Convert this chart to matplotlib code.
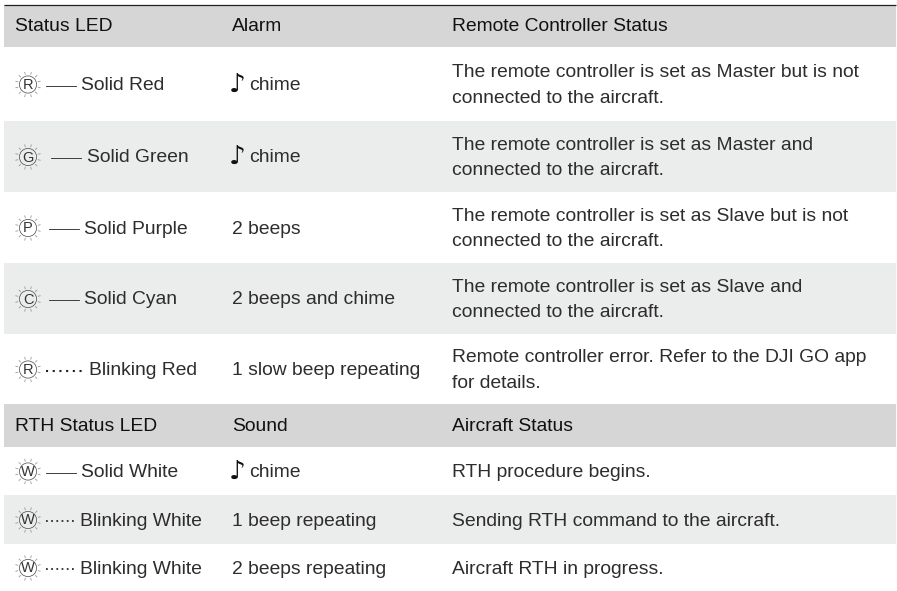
import matplotlib
matplotlib.use("Agg")
import matplotlib.pyplot as plt
from matplotlib.patches import Rectangle, Circle
import numpy as np

W, H = 897, 591
FONT = ["Liberation Sans", "DejaVu Sans"]
FS = 13.9
TXT = "#2e2c2d"
HDR = "#111111"

# content
headers_a = ["Status LED", "Alarm", "Remote Controller Status"]
headers_b = ["RTH Status LED", "Sound", "Aircraft Status"]
leds = ["R", "G", "P", "C", "R", "W", "W", "W"]
led_labels = ["Solid Red", "Solid Green", "Solid Purple", "Solid Cyan", "Blinking Red",
              "Solid White", "Blinking White", "Blinking White"]
line_kinds = ["solid", "solid", "solid", "solid", "dot", "solid", "dot", "dot"]
alarms = ["chime", "chime", "2 beeps", "2 beeps and chime", "1 slow beep repeating",
          "chime", "1 beep repeating", "2 beeps repeating"]
has_note = [True, True, False, False, False, True, False, False]
statuses = [
    "The remote controller is set as Master but is not\nconnected to the aircraft.",
    "The remote controller is set as Master and\nconnected to the aircraft.",
    "The remote controller is set as Slave but is not\nconnected to the aircraft.",
    "The remote controller is set as Slave and\nconnected to the aircraft.",
    "Remote controller error. Refer to the DJI GO app\nfor details.",
    "RTH procedure begins.",
    "Sending RTH command to the aircraft.",
    "Aircraft RTH in progress.",
]

# layout (pixels)
row_edges = [47, 121, 192, 263, 334, 404, 447, 495, 544, 591]
row_kinds = ["w", "g", "w", "g", "w", "h", "w", "g", "w"]
line_x0 = [46, 51, 49, 49, 46, 46, 46, 46]
line_x1 = [76, 81, 79, 79, 85, 76, 75, 75]
label_x = [81, 87, 83.5, 83.5, 89, 81, 79.5, 79.5]
dot_step_px = [0, 0, 0, 0, 6.7, 0, 5.2, 5.2]
dot_lw = [0, 0, 0, 0, 1.5, 0, 1.25, 1.25]
col2, col3, left, right = 232, 452, 4, 896
fills = {"w": "#ffffff", "g": "#ebecec", "h": "#d6d6d6"}

fig = plt.figure(figsize=(W / 100, H / 100), dpi=100, facecolor="white")
ax = fig.add_axes([0, 0, 1, 1])
ax.set_xlim(0, W)
ax.set_ylim(H, 0)
ax.axis("off")


def txt(x, y, s, color=TXT):
    ax.text(x, y + 1, s, family=FONT, fontsize=FS, color=color, va="center", ha="left",
            linespacing=1.67, zorder=4)


def band(y0, y1, c):
    ax.add_patch(Rectangle((left, y0), right - left, y1 - y0, fc=c, ec="none", zorder=0))


def led(cx, cy, letter):
    ax.add_patch(Circle((cx, cy), 8.6, fc="none", ec="#555555", lw=0.55, zorder=2))
    for a in np.deg2rad(np.arange(0, 360, 30) + 15):
        ax.plot([cx + 10.2 * np.cos(a), cx + 13 * np.cos(a)],
                [cy + 10.2 * np.sin(a), cy + 13 * np.sin(a)],
                color="#9a9a9a", lw=0.6, zorder=2, solid_capstyle="butt")
    ax.text(cx, cy - 1, letter, family=FONT, fontsize=10.5, color="#333333", ha="center",
            va="center_baseline", zorder=3)


band(5, 47, fills["h"])
ax.plot([left, right], [4.5, 4.5], color="#231f20", lw=0.9, zorder=3, solid_capstyle="butt")
for h, x in zip(headers_a, (15, col2, col3)):
    txt(x, 25.5, h, HDR)

for i in range(len(row_kinds)):
    band(row_edges[i], row_edges[i + 1], fills[row_kinds[i]])

hdr_row = row_kinds.index("h")
hy = (row_edges[hdr_row] + row_edges[hdr_row + 1]) / 2
for h, x in zip(headers_b, (15, col2, col3)):
    txt(x, hy, h, HDR)

data_rows = [r for r, k in enumerate(row_kinds) if k != "h"]
for n, r in enumerate(data_rows):
    cy = (row_edges[r] + row_edges[r + 1]) / 2 + 0.5
    led(28, cy, leds[n])
    if line_kinds[n] == "dot":
        lw = dot_lw[n]
        step = dot_step_px[n] * 0.72 / lw
        ax.plot([line_x0[n], line_x1[n]], [cy + 1, cy + 1], color="#231f20", lw=lw,
                ls=(0, (1.0, step - 1.0)), dash_capstyle="butt", zorder=2)
    else:
        ax.plot([line_x0[n], line_x1[n]], [cy + 1, cy + 1], color="#231f20", lw=0.6, zorder=2)
    txt(label_x[n], cy, led_labels[n])
    if has_note[n]:
        ax.text(col2 - 3, cy + 1, "\u266a", family=["DejaVu Sans"], fontsize=19, weight="bold",
                color="#111111", va="center", ha="left", zorder=4)
        txt(col2 + 17.5, cy, alarms[n])
    else:
        txt(col2, cy, alarms[n])
    txt(col3, cy, statuses[n])

fig.savefig("out.png", dpi=100, facecolor="white")
